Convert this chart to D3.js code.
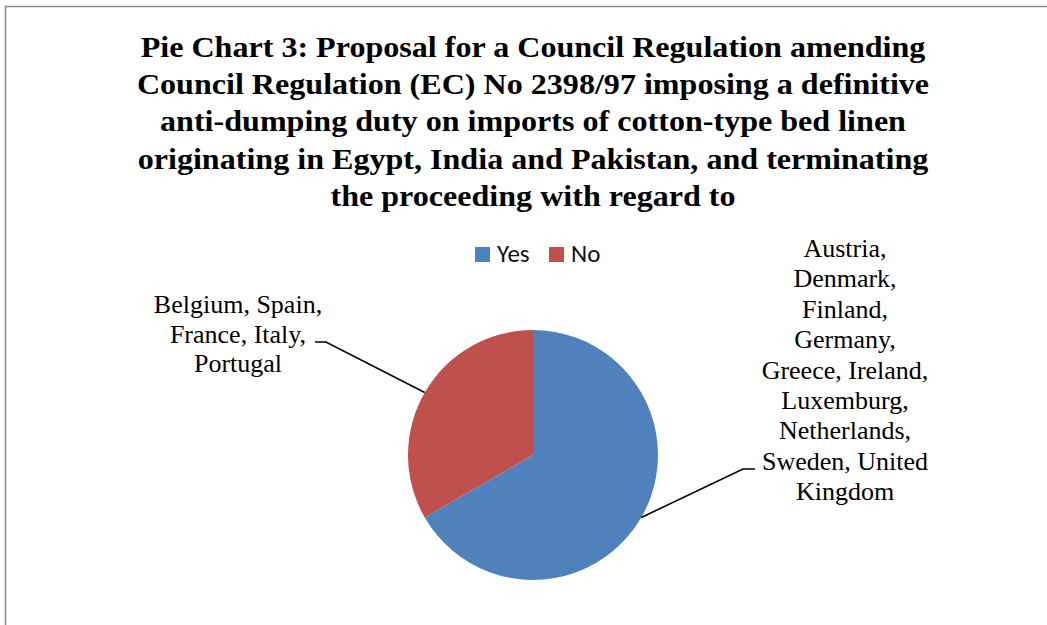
<!DOCTYPE html>
<html>
<head>
<meta charset="utf-8">
<script src="https://cdn.jsdelivr.net/npm/d3@7"></script>
<style>
  html, body { margin: 0; padding: 0; background: #fff; }
  svg { display: block; }
  .serif { font-family: "Liberation Serif", "Times New Roman", serif; }
  .legend { font-family: Carlito, Calibri, "Liberation Sans", sans-serif; }
</style>
</head>
<body>
<svg id="chart" width="1047" height="625"></svg>
<script>
// Votes on the proposal: member states that answered Yes / No
const categories = ["Yes", "No"];
const values = [10, 5];
const colors = ["#4F81BD", "#C0504D"];
const sliceLabels = [
  ["Austria,", "Denmark,", "Finland,", "Germany,", "Greece, Ireland,", "Luxemburg,", "Netherlands,", "Sweden, United", "Kingdom"],
  ["Belgium, Spain,", "France, Italy,", "Portugal"]
];
const titleLines = [
  "Pie Chart 3: Proposal for a Council Regulation amending",
  "Council Regulation (EC) No 2398/97 imposing a definitive",
  "anti-dumping duty on imports of cotton-type bed linen",
  "originating in Egypt, India and Pakistan, and terminating",
  "the proceeding with regard to"
];

const svg = d3.select("#chart");
const W = 1047, H = 625;

// chart frame (top and left edges visible)
svg.append("path")
  .attr("d", `M5.5,${H} L5.5,6.5 L${W},6.5`)
  .attr("fill", "none").attr("stroke", "#8c8c8c").attr("stroke-width", 1.5);

// title, slightly widened around its centre line
const titleX = 533;
svg.append("g")
  .attr("transform", `translate(${titleX},0) scale(1.07,1)`)
  .append("text")
  .attr("class", "serif")
  .attr("text-anchor", "middle")
  .attr("font-weight", "bold").attr("font-size", 30)
  .selectAll("tspan").data(titleLines).join("tspan")
  .attr("x", 0).attr("y", (d, i) => 57 + i * 37.2).text(d => d);

// legend
const legend = svg.append("g").attr("class", "legend").attr("font-size", 25);
const legendX = [475, 549];
categories.forEach((c, i) => {
  legend.append("rect").attr("x", legendX[i]).attr("y", 247).attr("width", 15).attr("height", 15).attr("fill", colors[i]);
  legend.append("text").attr("x", legendX[i] + 22).attr("y", 262).attr("fill", "#111").text(c);
});

// pie
const cx = 533, cy = 455, r = 125;
const pie = d3.pie().sort(null).value(d => d);
const arcs = pie(values);
const arc = d3.arc().innerRadius(0).outerRadius(r);
const g = svg.append("g").attr("transform", `translate(${cx},${cy})`);
g.selectAll("path").data(arcs).join("path")
  .attr("d", arc).attr("fill", (d, i) => colors[i]);

// leader lines from each slice's outer midpoint to its label
const edge = d3.arc().innerRadius(r).outerRadius(r);
const labelAnchors = [
  { elbow: [743, 469], end: [755, 469], tx: 845, ty: 257, step: 30.4 },
  { elbow: [326, 342], end: [315, 342], tx: 238, ty: 313, step: 29.5 }
];
arcs.forEach((a, i) => {
  const p = edge.centroid(a);
  const L = labelAnchors[i];
  svg.append("polyline")
    .attr("points", [[cx + p[0], cy + p[1]], L.elbow, L.end].map(q => q.join(",")).join(" "))
    .attr("fill", "none").attr("stroke", "#000").attr("stroke-width", 1.6);
  svg.append("text")
    .attr("class", "serif")
    .attr("text-anchor", "middle")
    .attr("font-size", 26)
    .selectAll("tspan").data(sliceLabels[i]).join("tspan")
    .attr("x", L.tx).attr("y", (d, k) => L.ty + k * L.step).text(d => d);
});
</script>
</body>
</html>
